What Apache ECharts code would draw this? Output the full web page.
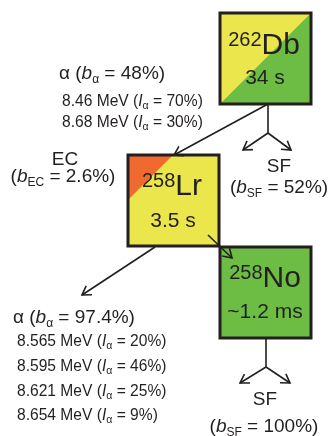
<!DOCTYPE html>
<html><head><meta charset="utf-8">
<script src="https://cdn.jsdelivr.net/npm/echarts@6/dist/echarts.min.js"></script>
<style>html,body{margin:0;padding:0;background:#fff}#c{width:332px;height:436px}</style>
</head><body><div id="c"></div><script>
// ---------- data ----------
const nuclides = ['Db', 'Lr', 'No'];
const massNumbers = ['262', '258', '258'];
const halfLives = ['34 s', '3.5 s', '~1.2 ms'];
const alphaBranches = ['48%', '97.4%'];      // Db, Lr
const ecBranches = ['2.6%'];                 // Lr
const sfBranches = ['52%', '100%'];          // Db, No
const dbAlphaEnergies = ['8.46', '8.68'];
const dbAlphaIntensities = ['70%', '30%'];
const lrAlphaEnergies = ['8.565', '8.595', '8.621', '8.654'];
const lrAlphaIntensities = ['20%', '46%', '25%', '9%'];

// ---------- layout & style ----------
const FONT = '"Liberation Sans", Arial, Helvetica, sans-serif';
const INK = '#231f20';
const YELLOW = '#ebe64c', GREEN = '#6dbd45', ORANGE = '#f0692e';
const boxLayout = [{x:220, y:13, s:91}, {x:128, y:155, s:91}, {x:220, y:247, s:91}];
const boxNameAt = [[264, 46], [172, 187], [265, 279]];
const boxLifeAt = [[265, 78], [173, 221], [265, 312]];
const arrowLayout = [
  {a:[268,104], b:[174,155], head:true},
  {a:[268,104], b:[268,133], head:false},
  {a:[268,133], b:[243,150], head:true},
  {a:[268,133], b:[291,150], head:true},
  {a:[208,235], b:[232,258], head:true},
  {a:[155,247], b:[82,295], head:true},
  {a:[266,338], b:[266,367], head:false},
  {a:[266,367], b:[240,383], head:true},
  {a:[266,367], b:[290,383], head:true}
];
const H = 19, HSUB = 12, HLH = 24;   // heading font
const E = 15.6, ESUB = 10.5, ELH = 20;   // energy line font

function richSet(size, sub, lh) {
  return {
    n: {fontSize:size, fontFamily:FONT, fill:INK, lineHeight:lh},
    i: {fontSize:size, fontFamily:FONT, fontStyle:'italic', fill:INK, lineHeight:lh},
    s: {fontSize:sub, fontFamily:FONT, fill:INK, lineHeight:sub, verticalAlign:'bottom'}
  };
}
const RICH_H = richSet(H, HSUB, HLH);
const RICH_E = richSet(E, ESUB, ELH);

const labels = [];
labels.push({x:59, y:74, align:'left', rich:RICH_H, text:`{n|α (}{i|b}{s|α}{n| = ${alphaBranches[0]})}`});
const dbLineY = [102, 123];
dbAlphaEnergies.forEach((e, k) => labels.push({x:62, y:dbLineY[k], align:'left', rich:RICH_E,
  text:`{n|${e} MeV (}{i|I}{s|α}{n| = ${dbAlphaIntensities[k]})}`}));
labels.push({x:65, y:160, align:'center', rich:RICH_H, text:'{n|EC}'});
labels.push({x:63, y:177, align:'center', rich:RICH_H, text:`{n|(}{i|b}{s|EC}{n| = ${ecBranches[0]})}`});
labels.push({x:279, y:167, align:'center', rich:RICH_H, text:'{n|SF}'});
labels.push({x:279, y:188, align:'center', rich:RICH_H, text:`{n|(}{i|b}{s|SF}{n| = ${sfBranches[0]})}`});
labels.push({x:13, y:318, align:'left', rich:RICH_H, text:`{n|α (}{i|b}{s|α}{n| = ${alphaBranches[1]})}`});
const lrLineY = [342, 367, 392, 416];
lrAlphaEnergies.forEach((e, k) => labels.push({x:17, y:lrLineY[k], align:'left', rich:RICH_E,
  text:`{n|${e} MeV (}{i|I}{s|α}{n| = ${lrAlphaIntensities[k]})}`}));
labels.push({x:265, y:400, align:'center', rich:RICH_H, text:'{n|SF}'});
labels.push({x:264, y:427, align:'center', rich:RICH_H, text:`{n|(}{i|b}{s|SF}{n| = ${sfBranches[1]})}`});

const NUC_RICH = {
  m: {fontSize:20, fontFamily:FONT, fill:INK, lineHeight:20, verticalAlign:'top'},
  e: {fontSize:30, fontFamily:FONT, fill:INK, lineHeight:32},
  t: {fontSize:21, fontFamily:FONT, fill:INK, lineHeight:24}
};

const chart = echarts.init(document.getElementById('c'));
chart.setOption({
  animation: false,
  grid: {left:0, right:0, top:0, bottom:0},
  xAxis: {type:'value', min:0, max:332, show:false},
  yAxis: {type:'value', min:0, max:436, inverse:true, show:false},
  series: [
    { // nuclide boxes
      type:'custom', clip:false,
      data: nuclides.map((n, i) => [boxLayout[i].x, boxLayout[i].y, i]),
      renderItem: (params, api) => {
        const i = api.value(2), L = boxLayout[i];
        const p0 = api.coord([L.x, L.y]), p1 = api.coord([L.x + L.s, L.y + L.s]);
        const w = p1[0] - p0[0], h = p1[1] - p0[1];
        const ch = [];
        ch.push({type:'rect', shape:{x:p0[0], y:p0[1], width:w, height:h}, style:{fill: i === 2 ? GREEN : YELLOW}});
        if (i === 0) ch.push({type:'polygon', shape:{points:[[p0[0],p1[1]],[p1[0],p0[1]],[p1[0],p1[1]]]}, style:{fill:GREEN}});
        if (i === 1) { const c = api.coord([L.x + 45, L.y + 45]);
          ch.push({type:'polygon', shape:{points:[[p0[0],p0[1]],[c[0],p0[1]],[p0[0],c[1]]]}, style:{fill:ORANGE}}); }
        ch.push({type:'rect', shape:{x:p0[0], y:p0[1], width:w, height:h}, style:{fill:null, stroke:INK, lineWidth:3}});
        const np = api.coord(boxNameAt[i]), lp = api.coord(boxLifeAt[i]);
        ch.push({type:'text', style:{x:np[0], y:np[1], text:`{m|${massNumbers[i]}}{e|${nuclides[i]}}`, rich:NUC_RICH, align:'center', verticalAlign:'middle'}});
        ch.push({type:'text', style:{x:lp[0], y:lp[1], text:`{t|${halfLives[i]}}`, rich:NUC_RICH, align:'center', verticalAlign:'middle'}});
        return {type:'group', children:ch};
      }
    },
    { // decay arrows
      type:'custom', clip:false,
      data: arrowLayout.map((a, i) => [a.a[0], a.a[1], a.b[0], a.b[1], a.head ? 1 : 0]),
      renderItem: (params, api) => {
        const s = api.coord([api.value(0), api.value(1)]), t = api.coord([api.value(2), api.value(3)]);
        const ch = [{type:'line', shape:{x1:s[0], y1:s[1], x2:t[0], y2:t[1]}, style:{stroke:INK, lineWidth:1.6}}];
        if (api.value(4)) {
          const dx = t[0]-s[0], dy = t[1]-s[1], d = Math.hypot(dx, dy), ux = dx/d, uy = dy/d;
          const Lh = 10, th = 32 * Math.PI / 180, c = Math.cos(th), sn = Math.sin(th);
          const w1 = [t[0] - Lh*(ux*c - uy*sn), t[1] - Lh*(uy*c + ux*sn)];
          const w2 = [t[0] - Lh*(ux*c + uy*sn), t[1] - Lh*(uy*c - ux*sn)];
          ch.push({type:'polyline', shape:{points:[w1, t, w2]}, style:{stroke:INK, lineWidth:1.6, fill:null, lineJoin:'miter'}});
        }
        return {type:'group', children:ch};
      }
    },
    { // text labels
      type:'custom', clip:false,
      data: labels.map((l, i) => [l.x, l.y, i]),
      renderItem: (params, api) => {
        const l = labels[api.value(2)], p = api.coord([l.x, l.y]);
        return {type:'text', style:{x:p[0], y:p[1], text:l.text, rich:l.rich, align:l.align, verticalAlign:'middle'}};
      }
    }
  ]
});
</script></body></html>
